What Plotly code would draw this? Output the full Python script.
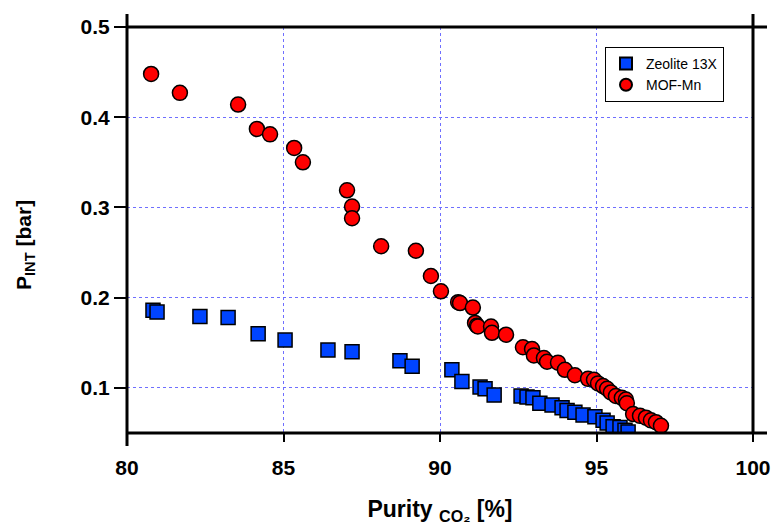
import plotly.graph_objects as go

# Zeolite 13X
zeo_purity = [80.83, 80.96, 82.33, 83.23, 84.19, 85.05, 86.42, 87.19, 88.72, 89.11,
              90.38, 90.70, 91.28, 91.44, 91.73, 92.59, 92.78, 92.97, 93.19, 93.58,
              93.90, 94.06, 94.31, 94.57, 94.95, 95.21, 95.34, 95.53, 95.75, 95.91, 96.01]
zeo_pint = [0.186, 0.184, 0.179, 0.178, 0.160, 0.153, 0.142, 0.140, 0.130, 0.124,
            0.120, 0.107, 0.101, 0.099, 0.092, 0.091, 0.090, 0.089, 0.083, 0.081,
            0.078, 0.075, 0.073, 0.070, 0.068, 0.064, 0.061, 0.057, 0.056, 0.053, 0.051]

# MOF-Mn
mof_purity = [80.77, 81.69, 83.55, 84.15, 84.57, 85.34, 85.62, 87.03, 87.19, 87.19,
              88.12, 89.23, 89.71, 90.03, 90.58, 90.64, 91.05, 91.12, 91.18, 91.21,
              91.63, 91.66, 92.11, 92.65, 92.94, 93.00, 93.32, 93.42, 93.77, 93.99,
              94.31, 94.73, 94.92, 95.05, 95.21, 95.34, 95.46, 95.62, 95.81, 95.94,
              95.97, 96.17, 96.39, 96.58, 96.74, 96.90, 97.06]
mof_pint = [0.448, 0.427, 0.414, 0.387, 0.381, 0.366, 0.350, 0.319, 0.301, 0.288,
            0.257, 0.252, 0.224, 0.207, 0.195, 0.194, 0.189, 0.172, 0.169, 0.168,
            0.168, 0.161, 0.159, 0.145, 0.143, 0.136, 0.133, 0.129, 0.128, 0.120,
            0.114, 0.110, 0.109, 0.105, 0.102, 0.099, 0.095, 0.091, 0.089, 0.087,
            0.083, 0.071, 0.069, 0.067, 0.064, 0.062, 0.058]

x_ticks = [80, 85, 90, 95, 100]
y_ticks = [0.1, 0.2, 0.3, 0.4, 0.5]
y_ticklabels = ["0.1", "0.2", "0.3", "0.4", "0.5"]

FONT = "Liberation Sans, Arial, sans-serif"

fig = go.Figure()
fig.add_trace(go.Scatter(
    x=zeo_purity, y=zeo_pint, mode="markers", name="Zeolite 13X",
    marker=dict(symbol="square", size=14, color="#0044ff",
                line=dict(color="black", width=1.5))))
fig.add_trace(go.Scatter(
    x=mof_purity, y=mof_pint, mode="markers", name="MOF-Mn",
    marker=dict(symbol="circle", size=15, color="#ff0000",
                line=dict(color="black", width=1.5))))

W, H = 775, 529
L, R, T, B = 127, 22, 27, 96
pw, ph = W - L - R, H - T - B

GRID = "#6f6fff"

fig.update_layout(
    width=W, height=H,
    margin=dict(l=L, r=R, t=T, b=B, autoexpand=False),
    plot_bgcolor="white", paper_bgcolor="white",
    font=dict(family=FONT, color="black"),
    showlegend=True,
    legend=dict(x=(605 - L) / pw, y=(H - B - 47) / ph, xanchor="left", yanchor="top",
                bordercolor="black", borderwidth=1, bgcolor="white",
                font=dict(size=14, family=FONT), tracegroupgap=0,
                itemsizing="constant"),
    xaxis=dict(range=[80, 100], tickvals=x_ticks, ticks="outside", ticklen=8,
               tickwidth=2, tickcolor="black", showline=False, zeroline=False,
               automargin=False, ticklabelstandoff=8,
               showgrid=True, gridcolor=GRID, griddash="dot", gridwidth=1,
               tickfont=dict(size=21, family=FONT, weight="bold"),
               title=dict(text="Purity <sub>CO₂</sub> [%]",
                          font=dict(size=23, family=FONT, weight="bold"), standoff=22)),
    yaxis=dict(range=[0.05, 0.5], tickvals=y_ticks, ticktext=y_ticklabels,
               ticks="outside", ticklen=12, tickwidth=2, tickcolor="black",
               showline=False, zeroline=False, automargin=False,
               showgrid=True, gridcolor=GRID, griddash="dot", gridwidth=1,
               tickfont=dict(size=21, family=FONT, weight="bold")),
)

# y-axis title (placed as annotation to match its vertical offset)
fig.add_annotation(text="P<sub>INT</sub> [bar]", textangle=-90,
                   xref="paper", yref="paper",
                   x=(25 - L) / pw, y=(H - B - 245) / ph,
                   xanchor="center", yanchor="middle", showarrow=False,
                   font=dict(size=21, family=FONT, weight="bold", color="black"))

ox = 14 / pw
oy = 13 / ph
lw = 3
# frame lines with overhang
fig.add_shape(type="line", xref="paper", yref="paper", x0=0, x1=0, y0=-oy, y1=1 + oy,
              line=dict(color="black", width=lw))
fig.add_shape(type="line", xref="paper", yref="paper", x0=1, x1=1, y0=0, y1=1 + oy,
              line=dict(color="black", width=lw))
fig.add_shape(type="line", xref="paper", yref="paper", x0=0, x1=1 + ox, y0=0, y1=0,
              line=dict(color="black", width=lw))
fig.add_shape(type="line", xref="paper", yref="paper", x0=0, x1=1 + ox, y0=1, y1=1,
              line=dict(color="black", width=lw))

fig.write_html("out.html", config={"displayModeBar": False},
               post_script="document.body.style.margin='0';")
